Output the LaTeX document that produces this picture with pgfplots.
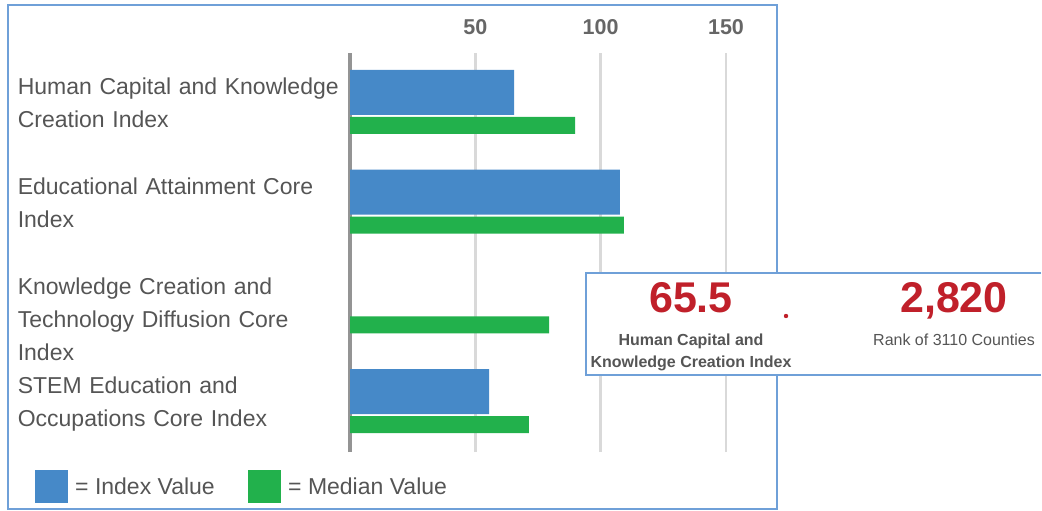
\documentclass[border=0pt]{standalone}
\usepackage{pgfplots}
\pgfplotsset{compat=1.18}
\usepackage{fontspec}
\setmainfont{Liberation Sans}
\definecolor{barblue}{HTML}{4689C8}
\definecolor{bargreen}{HTML}{22B14C}
\definecolor{framblue}{HTML}{6FA0D8}
\definecolor{txtgray}{HTML}{555555}
\definecolor{tickgray}{HTML}{666666}
\definecolor{numred}{HTML}{C0202A}
\begin{document}
\begin{tikzpicture}
\begin{scope}[x=1bp,y=-1bp]
\path (0,0) rectangle (1042,511);
\draw[framblue, line width=2bp] (8,5) rectangle (777,509);
\end{scope}
\begin{axis}[
  at={(350bp,-452bp)}, anchor=south west,
  scale only axis, width=413.6bp, height=399bp,
  xmin=0, xmax=165, ymin=-0.607, ymax=3.396,
  axis x line*=top, axis y line*=left,
  x axis line style={draw=none},
  y axis line style={line width=3.5bp, draw=black!42, -},
  major tick length=0pt,
  xtick={50,100,150},
  /pgf/number format/assume math mode=true,
  xticklabel style={font=\fontsize{21.5bp}{24bp}\selectfont\bfseries, text=tickgray, anchor=base, yshift=18bp},
  xmajorgrids, grid style={line width=2.5bp, color=black!15},
  ytick={3.145,2.145,1.145,0.145},
  yticklabels={{Human Capital and Knowledge\\Creation Index},{Educational Attainment Core\\Index},{Knowledge Creation and\\Technology Diffusion Core\\Index},{STEM Education and\\Occupations Core Index}},
  yticklabel style={align=left, text width=332bp, inner sep=0pt, anchor=north east, font=\fontsize{23bp}{33bp}\selectfont, text=txtgray},
]
\addplot[xbar, bar width=45bp, bar shift=0pt, fill=barblue, draw=none] coordinates {(65.5,3) (107.7,2) (55.5,0)};
\addplot[xbar, bar width=17bp, bar shift=-33bp, fill=bargreen, draw=none] coordinates {(89.8,3) (109.3,2) (79.4,1) (71.4,0)};
\end{axis}
\begin{scope}[x=1bp,y=-1bp]
\fill[barblue] (35,470) rectangle (68,503);
\node[anchor=base west, inner sep=0pt, font=\fontsize{23bp}{25bp}\selectfont, text=txtgray] at (75,494) {= Index Value};
\fill[bargreen] (248,470) rectangle (281,503);
\node[anchor=base west, inner sep=0pt, font=\fontsize{23bp}{25bp}\selectfont, text=txtgray] at (288,494) {= Median Value};
\fill[white] (586,273) rectangle (1042,375);
\draw[framblue, line width=2bp] (1041,273) -- (586,273) -- (586,375) -- (1041,375);
\node[anchor=base, inner sep=0pt, text=numred, font=\fontsize{43bp}{43bp}\selectfont\bfseries] at (691,313) {65.5};
\node[anchor=base, inner sep=0pt, text=txtgray, font=\fontsize{16bp}{18bp}\selectfont\bfseries] at (691,346) {Human Capital and};
\node[anchor=base, inner sep=0pt, text=txtgray, font=\fontsize{16bp}{18bp}\selectfont\bfseries] at (691,368) {Knowledge Creation Index};
\fill[numred] (786,316) circle (2.2);
\node[anchor=base, inner sep=0pt, text=numred, font=\fontsize{43bp}{43bp}\selectfont\bfseries] at (954,313) {2,820};
\node[anchor=base, inner sep=0pt, text=txtgray, font=\fontsize{16bp}{18bp}\selectfont] at (954,346) {Rank of 3110 Counties};
\end{scope}
\end{tikzpicture}
\end{document}
